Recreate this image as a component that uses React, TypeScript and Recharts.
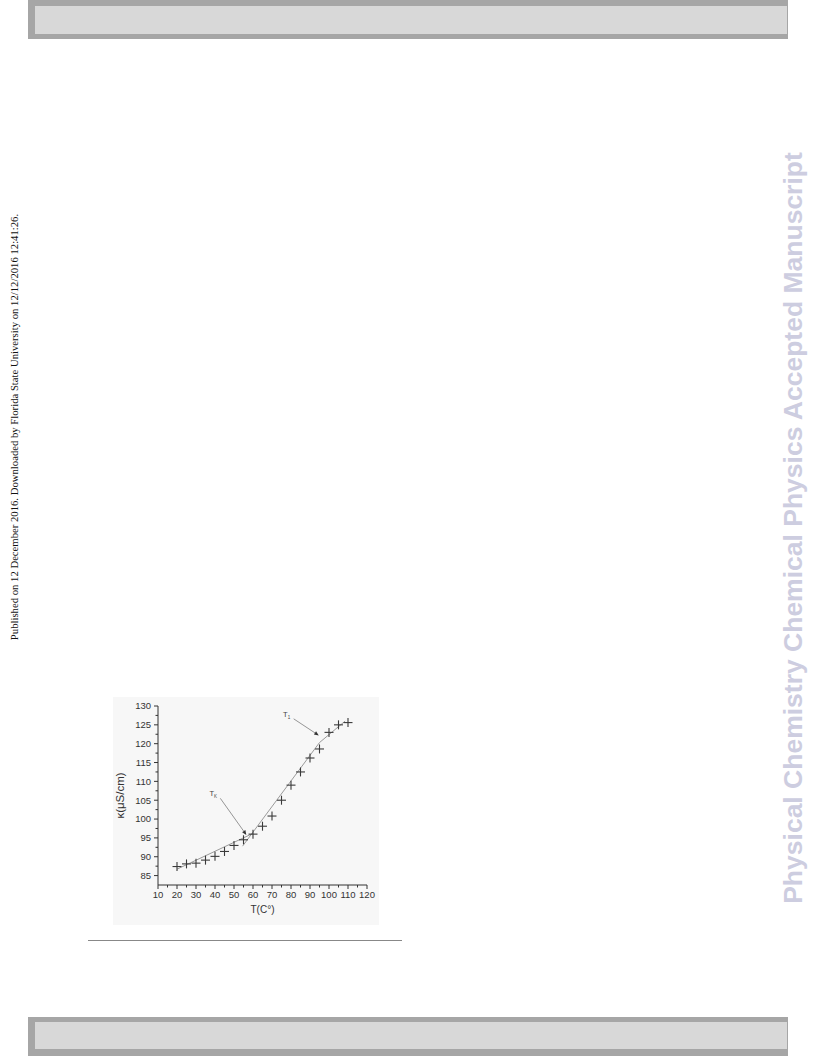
import { ScatterChart, Scatter, XAxis, YAxis, ReferenceLine, Label } from "recharts";

// measured conductivity vs temperature
const temps = [20, 25, 30, 35, 40, 45, 50, 55, 60, 65, 70, 75, 80, 85, 90, 95, 100, 105, 110];
const kappa = [87.4, 88.1, 88.3, 89.1, 90.1, 91.4, 93.0, 94.5, 96.0, 98.1, 100.8, 105.0, 109.0, 112.5, 116.2, 118.6, 123.0, 125.0, 125.6];

// hand-drawn fit segments
const fitLow = [{ x: 20, y: 86.7 }, { x: 60, y: 96.2 }];
const fitMid = [{ x: 54.5, y: 92.8 }, { x: 95, y: 120.3 }];
const fitHigh = [{ x: 95, y: 120.3 }, { x: 108.5, y: 126 }];

// arrows pointing at the transition temperatures
const arrows = [
  { sub: "K", from: { x: 42.8, y: 105.5 }, to: { x: 56.5, y: 95.8 } },
  { sub: "1", from: { x: 81.4, y: 126.6 }, to: { x: 94.6, y: 122.2 } },
];

const xTicks = [10, 15, 20, 25, 30, 35, 40, 45, 50, 55, 60, 65, 70, 75, 80, 85, 90, 95, 100, 105, 110, 115, 120];
const xLabels = [10, 20, 30, 40, 50, 60, 70, 80, 90, 100, 110, 120];
const yTicks = [85, 87.5, 90, 92.5, 95, 97.5, 100, 102.5, 105, 107.5, 110, 112.5, 115, 117.5, 120, 122.5, 125, 127.5, 130];
const yLabels = [85, 90, 95, 100, 105, 110, 115, 120, 125, 130];

const points = temps.map((t, i) => ({ x: t, y: kappa[i] }));

const font = "'Liberation Sans', Arial, sans-serif";

function XTick(props: any) {
  const { x, y, payload } = props;
  const v = payload.value;
  const major = xLabels.includes(v);
  return (
    <g>
      <line x1={x} y1={y - 4} x2={x} y2={y - 4 + (major ? 4 : 2.5)} stroke="#333" />
      {major && (
        <text x={x} y={y + 8.5} textAnchor="middle" fontSize={9.5} fill="#333" fontFamily={font}>
          {v}
        </text>
      )}
    </g>
  );
}

function YTick(props: any) {
  const { x, y, payload } = props;
  const v = payload.value;
  const major = yLabels.includes(v);
  return (
    <g>
      <line x1={x + (major ? 0 : 1.5)} y1={y} x2={x + 4} y2={y} stroke="#333" />
      {major && (
        <text x={x - 3} y={y + 3.4} textAnchor="end" fontSize={9.5} fill="#333" fontFamily={font}>
          {v}
        </text>
      )}
    </g>
  );
}

function Cross(props: any) {
  const { cx, cy } = props;
  const s = 4.5;
  return (
    <g stroke="#3a3a3a" strokeWidth={1.1}>
      <line x1={cx - s} y1={cy} x2={cx + s} y2={cy} />
      <line x1={cx} y1={cy - s} x2={cx} y2={cy + s} />
    </g>
  );
}

function makeArrow(sub: string) {
  return (p: any) => {
    const { x1, y1, x2, y2 } = p;
    const ang = Math.atan2(y2 - y1, x2 - x1);
    const h = 4.5;
    const w = 2;
    const bx = x2 - h * Math.cos(ang);
    const by = y2 - h * Math.sin(ang);
    const px = -Math.sin(ang) * w;
    const py = Math.cos(ang) * w;
    return (
      <g>
        <line x1={x1} y1={y1} x2={bx} y2={by} stroke="#8a8a8a" strokeWidth={0.9} />
        <polygon points={`${x2},${y2} ${bx + px},${by + py} ${bx - px},${by - py}`} fill="#333" />
        <text x={x1 - 7} y={y1 - 2} textAnchor="middle" fontSize={7.5} fill="#444" fontFamily={font}>
          T
          <tspan dy={2} fontSize={4.5}>
            {sub}
          </tspan>
        </text>
      </g>
    );
  };
}

function Figure() {
  return (
    <ScatterChart width={266} height={228} margin={{ top: 9, right: 12, left: 0, bottom: 0 }}>
      <XAxis
        type="number"
        dataKey="x"
        domain={[10, 120]}
        ticks={xTicks}
        interval={0}
        tickSize={4}
        tickMargin={0}
        tickLine={false}
        tick={<XTick />}
        height={40}
        axisLine={{ stroke: "#333" }}
      >
        <Label value="T(C°)" position="insideBottom" offset={12} fontSize={10} fill="#333" fontFamily={font} />
      </XAxis>
      <YAxis
        type="number"
        dataKey="y"
        domain={[82.5, 130]}
        ticks={yTicks}
        interval={0}
        tickSize={4}
        tickMargin={0}
        tickLine={false}
        tick={<YTick />}
        width={45}
        axisLine={{ stroke: "#333" }}
      >
        <Label
          value="κ(μS/cm)"
          angle={-90}
          position="insideLeft"
          offset={7}
          textAnchor="middle"
          fontSize={11.5}
          fill="#333"
          fontFamily={font}
        />
      </YAxis>
      <Scatter data={fitLow} line={{ stroke: "#9a9a9a", strokeWidth: 1 }} shape={() => <g />} isAnimationActive={false} />
      <Scatter data={fitMid} line={{ stroke: "#9a9a9a", strokeWidth: 1 }} shape={() => <g />} isAnimationActive={false} />
      <Scatter data={fitHigh} line={{ stroke: "#9a9a9a", strokeWidth: 1 }} shape={() => <g />} isAnimationActive={false} />
      {arrows.map((a) => (
        <ReferenceLine key={a.sub} segment={[a.from, a.to]} ifOverflow="visible" shape={makeArrow(a.sub)} />
      ))}
      <Scatter data={points} shape={<Cross />} isAnimationActive={false} />
    </ScatterChart>
  );
}

export default function App() {
  return (
    <div style={{ position: "absolute", left: 0, top: 0, width: 816, height: 1056, background: "#fff", overflow: "hidden" }}>
      {/* header bar */}
      <div style={{ position: "absolute", left: 28, top: 0, width: 760, height: 39, background: "#a6a6a6" }} />
      <div style={{ position: "absolute", left: 35, top: 6, width: 752, height: 28, background: "#d8d8d8" }} />
      {/* footer bar */}
      <div style={{ position: "absolute", left: 28, top: 1017, width: 760, height: 39, background: "#a6a6a6" }} />
      <div style={{ position: "absolute", left: 35, top: 1022, width: 752, height: 27, background: "#d8d8d8" }} />

      <div
        style={{
          position: "absolute",
          left: 14,
          top: 427,
          width: 520,
          transform: "translate(-50%, -50%) rotate(-90deg)",
          textAlign: "center",
          whiteSpace: "nowrap",
          fontFamily: "'Liberation Serif', 'Times New Roman', serif",
          fontSize: 10.7,
          color: "#111",
        }}
      >
        Published on 12 December 2016. Downloaded by Florida State University on 12/12/2016 12:41:26.
      </div>

      <div
        style={{
          position: "absolute",
          left: 793,
          top: 528,
          width: 900,
          transform: "translate(-50%, -50%) rotate(-90deg)",
          textAlign: "center",
          whiteSpace: "nowrap",
          fontFamily: "'Liberation Sans', Arial, sans-serif",
          fontWeight: "bold",
          fontSize: 26.5,
          color: "#cdcde0",
        }}
      >
        Physical Chemistry Chemical Physics Accepted Manuscript
      </div>

      <div style={{ position: "absolute", left: 113, top: 697, width: 266, height: 228, background: "#f7f7f7" }}>
        <Figure />
      </div>

      <div style={{ position: "absolute", left: 88, top: 940, width: 314, height: 1, background: "#888" }} />
    </div>
  );
}
